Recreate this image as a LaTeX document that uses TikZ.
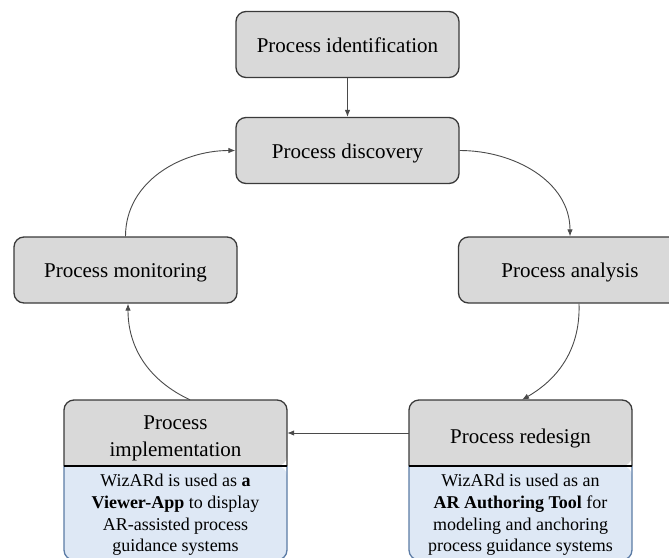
\documentclass[tikz,border=0pt]{standalone}
\usepackage{fontspec}
\setmainfont{Liberation Serif}
\usetikzlibrary{arrows.meta}
\definecolor{boxgray}{HTML}{D9D9D9}
\definecolor{boxblue}{HTML}{DEE8F5}
\definecolor{blueedge}{HTML}{5B7BA5}
\definecolor{edgegray}{HTML}{3A3A3A}
\definecolor{linegray}{HTML}{4A4A4A}
\tikzset{
  proc/.style={draw=edgegray, line width=1.3pt, fill=boxgray, rounded corners=10pt,
    minimum width=223pt, minimum height=66pt, inner sep=0pt, align=center,
    text height=20.5pt, text depth=4.6pt,
    font=\fontsize{21}{26}\selectfont},
  hdrframe/.style={minimum width=223pt, minimum height=66pt, inner sep=0pt},
  hdrtext/.style={align=center, inner sep=0pt, font=\fontsize{21}{27}\selectfont},
  bodytext/.style={align=center, inner sep=0pt, font=\fontsize{18}{21.7}\selectfont},
  conn/.style={draw=linegray, line width=0.9pt, -{Latex[length=7pt,width=5.5pt]}},
}
\begin{document}
\begin{tikzpicture}[x=1pt,y=-1pt]
\useasboundingbox (0,0) rectangle (669,557);
\clip (0,0) rectangle (669,557);
% plain boxes
\node[proc] (ident) at (347.5,44.5) {Process identification};
\node[proc] (disc) at (347.5,150.5) {Process discovery};
\node[proc] (mon) at (125.5,270) {Process monitoring};
\node[proc] (ana) at (570,270) {Process analysis};
% implementation box (two parts)
\fill[boxblue, rounded corners=10pt] (64,466) -- (64,560) -- (287,560) -- (287,466) [sharp corners] -- cycle;
\draw[blueedge, line width=1.3pt, rounded corners=10pt] (64,466) -- (64,560) -- (287,560) -- (287,466);
\fill[boxgray, rounded corners=10pt] (64,466) -- (64,400) -- (287,400) -- (287,466) [sharp corners] -- cycle;
\draw[edgegray, line width=1.3pt, rounded corners=10pt] (64,466) -- (64,400) -- (287,400) -- (287,466);
\draw[black, line width=1.1pt] (64,466) -- (287,466);
\node[hdrframe] (impl) at (175.5,433) {};
\node[hdrtext] (impltitle) at (175.5,438) {Process\\implementation};
\node[bodytext] (implbody) at (175.5,515) {WizARd is used as \textbf{a}\\\textbf{Viewer-App} to display\\AR-assisted process\\guidance systems};
% redesign box (two parts)
\fill[boxblue, rounded corners=10pt] (409,466) -- (409,560) -- (632,560) -- (632,466) [sharp corners] -- cycle;
\draw[blueedge, line width=1.3pt, rounded corners=10pt] (409,466) -- (409,560) -- (632,560) -- (632,466);
\fill[boxgray, rounded corners=10pt] (409,466) -- (409,400) -- (632,400) -- (632,466) [sharp corners] -- cycle;
\draw[edgegray, line width=1.3pt, rounded corners=10pt] (409,466) -- (409,400) -- (632,400) -- (632,466);
\draw[black, line width=1.1pt] (409,466) -- (632,466);
\node[hdrframe] (red) at (520.5,433) {};
\node[hdrtext] (redtitle) at (520.5,438) {Process redesign};
\node[bodytext] (redbody) at (520.5,515) {WizARd is used as an\\\textbf{AR Authoring Tool} for\\modeling and anchoring\\process guidance systems};
% connectors
\draw[conn] (ident) -- (disc);
\draw[conn] (disc.east) to[out=0,in=90] (ana.north);
\draw[conn] ([xshift=9pt]ana.south) to[out=-88,in=30] ([xshift=1.5pt]red.north);
\draw[conn] (red.west) -- (impl.east);
\draw[conn] ([xshift=14.5pt]impl.north) to[out=155,in=-90] ([xshift=2.5pt]mon.south);
\draw[conn] (mon.north) to[out=90,in=180] (disc.west);
\end{tikzpicture}
\end{document}
